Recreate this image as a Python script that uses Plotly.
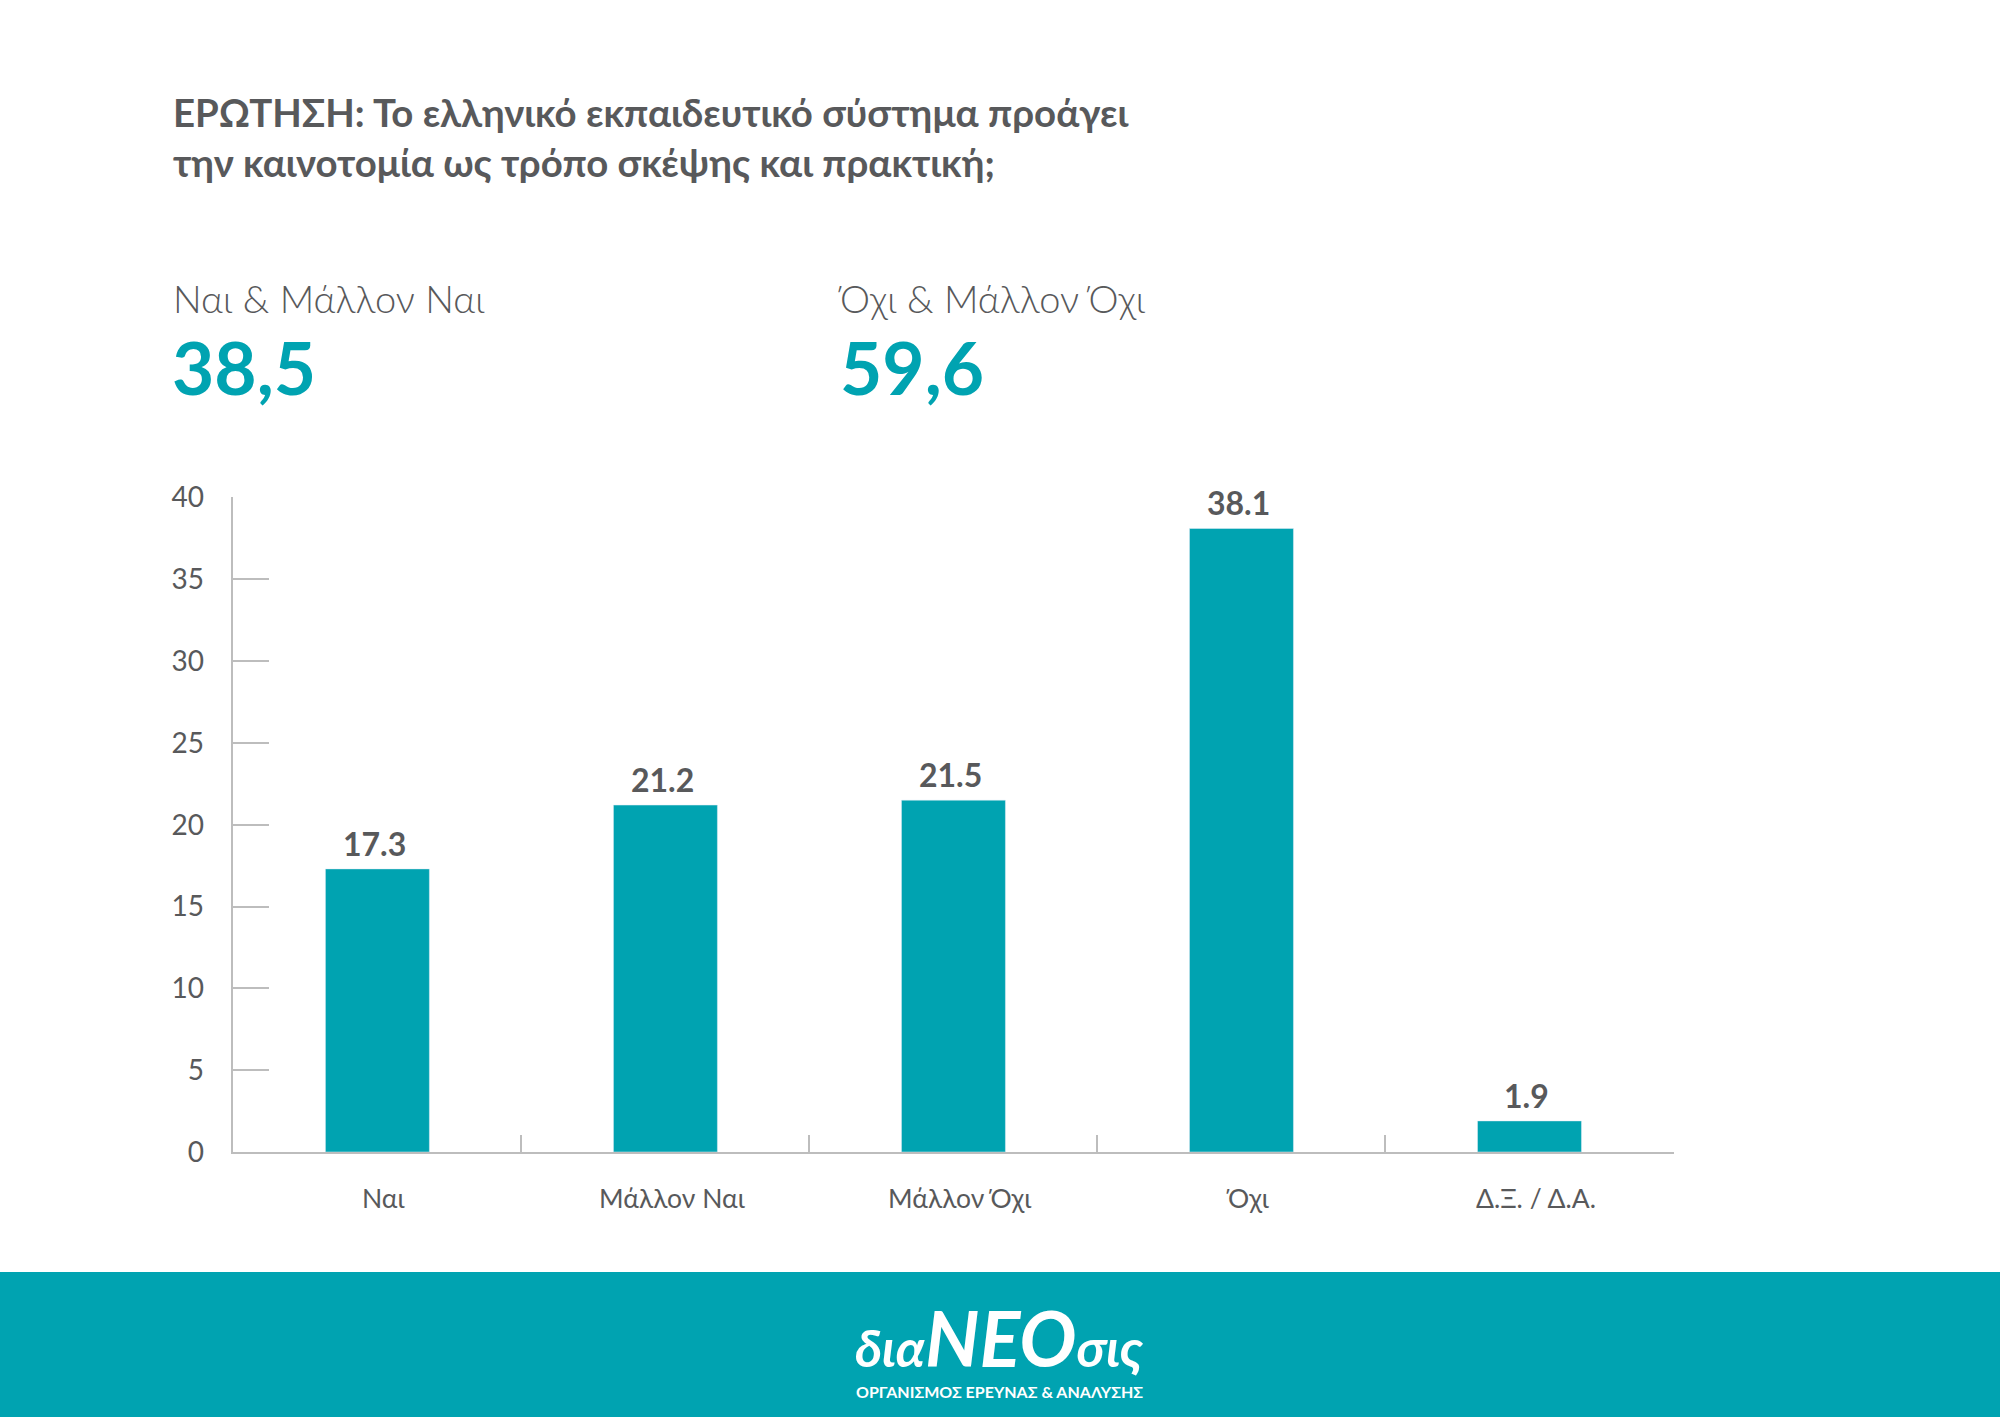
import plotly.graph_objects as go

categories = ['Ναι', 'Μάλλον Ναι', 'Μάλλον Όχι', 'Όχι', 'Δ.Ξ. / Δ.Α.']
values = [17.3, 21.2, 21.5, 38.1, 1.9]
y_ticks = [0, 5, 10, 15, 20, 25, 30, 35, 40]
question = ['ΕΡΩΤΗΣΗ: Το ελληνικό εκπαιδευτικό σύστημα προάγει',
            'την καινοτομία ως τρόπο σκέψης και πρακτική;']
kpi_labels = ['Ναι & Μάλλον Ναι', 'Όχι & Μάλλον Όχι']
kpi_values = ['38,5', '59,6']

W, H = 2000, 1417
TEAL = '#00a3b1'
GREY = '#58595b'
AXIS = '#bdbdbd'
FONT = 'Lato, Noto Sans, sans-serif'

fig = go.Figure()
fig.add_trace(go.Bar(x=categories, y=values, width=0.361, marker_color=TEAL))


def paper_text(text, x, y, size, color=GREY, weight=400, anchor='left'):
    fig.add_annotation(text=text, x=x / W, y=1 - y / H, xref='paper', yref='paper',
                       xanchor=anchor, yanchor='middle', showarrow=False,
                       font=dict(family=FONT, size=size, color=color, weight=weight))


for line, y in zip(question, [111.5, 161.5]):
    paper_text(line, 171, y, 38.4, weight=700)
for label, val, x, xv in zip(kpi_labels, kpi_values, [171, 836], [170, 838]):
    paper_text(label, x, 297.5, 38, weight=300)
    paper_text(val, xv, 367, 73, color=TEAL, weight=700)

# footer band and logo
fig.add_shape(type='rect', xref='paper', yref='paper', x0=0, x1=1, y0=0, y1=1 - 1272 / H,
              fillcolor=TEAL, line_width=0, layer='below')
paper_text('<i>δια<span style="font-size:76px">ΝΕΟ</span>σις</i>', 999, 1337, 52,
           color='white', weight=700, anchor='center')
paper_text('ΟΡΓΑΝΙΣΜΟΣ ΕΡΕΥΝΑΣ &amp; ΑΝΑΛΥΣΗΣ', 999, 1391, 16, color='white', weight=700, anchor='center')

# category labels sit a little right of the bars in the original
for c, v in zip(categories, values):
    fig.add_annotation(text=c, x=c, y=0, xref='x', yref='y', yanchor='middle', yshift=-46, xshift=7,
                       showarrow=False, font=dict(family=FONT, size=26.5, color=GREY))
    fig.add_annotation(text=str(v), x=c, y=v, xref='x', yref='y', yanchor='bottom', yshift=4, xshift=-3,
                       showarrow=False, font=dict(family=FONT, size=32, color=GREY, weight=700))

fig.update_layout(
    width=W, height=H, margin=dict(l=0, r=0, t=0, b=0, autoexpand=False),
    paper_bgcolor='white', plot_bgcolor='white', showlegend=False,
    font=dict(family=FONT, color=GREY),
    xaxis=dict(domain=[233.4 / W, 1673.5 / W], anchor='y', type='category', categoryorder='array',
               categoryarray=categories, tickson='boundaries', ticks='inside', ticklen=17,
               tickcolor=AXIS, tickwidth=1.5, showticklabels=False, showgrid=False,
               showline=True, linecolor=AXIS, linewidth=1.5, zeroline=False),
    yaxis=dict(domain=[1 - 1152 / H, 1 - 497.4 / H], anchor='x', range=[0, 40], tickvals=y_ticks,
               ticks='inside', ticklen=36, tickcolor=AXIS, tickwidth=1.5, showgrid=False,
               showline=True, linecolor=AXIS, linewidth=1.5, zeroline=False, ticklabelstandoff=22,
               tickfont=dict(family=FONT, size=28, color=GREY)),
)
# the page's default body margin would push the figure off by 8px
fig.write_html('out.html', config={'displayModeBar': False},
               post_script="document.body.style.margin='0';")
